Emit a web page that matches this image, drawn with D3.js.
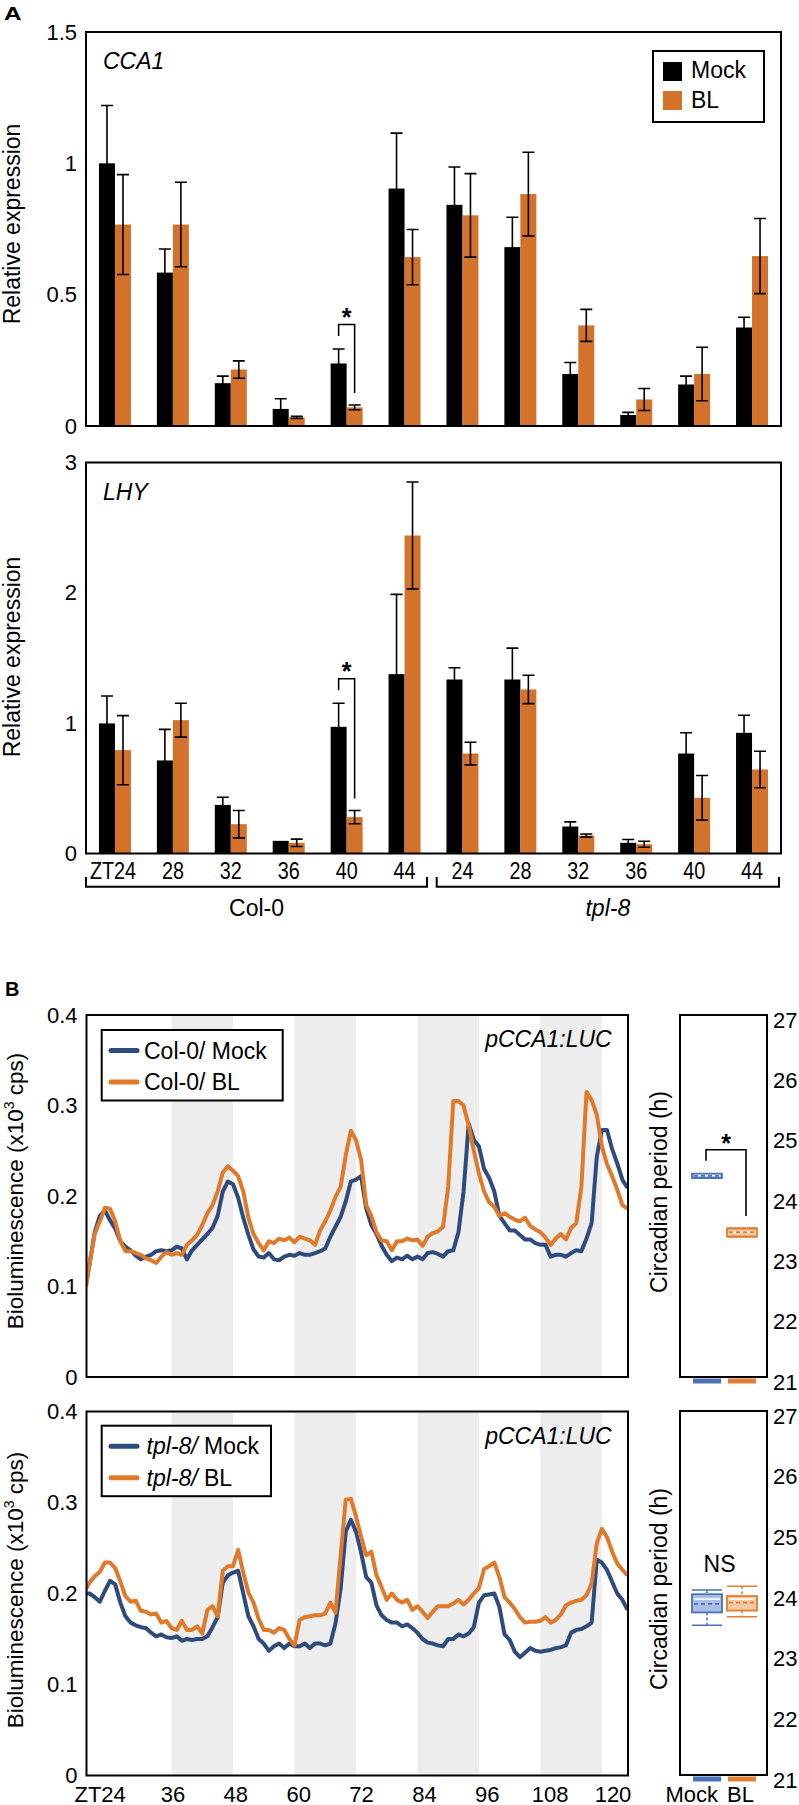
<!DOCTYPE html>
<html><head><meta charset="utf-8">
<script src="https://cdn.jsdelivr.net/npm/d3@7"></script>
<style>body{margin:0;background:#fff}svg{display:block}text{font-family:"Liberation Sans",Arial,Helvetica,sans-serif;fill:#000}</style>
</head><body><svg id="c" width="799" height="1805"></svg>
<script>
// ---------- Panel A data ----------
const timeLabels = ["ZT24","28","32","36","40","44","24","28","32","36","40","44"];
const genotypes = ["Col-0","tpl-8"];
const treatments = ["Mock","BL"];
const cca1Mock    = [1.00,0.584,0.163,0.065,0.238,0.904,0.842,0.681,0.198,0.042,0.158,0.375];
const cca1MockErr = [0.22,0.090,0.027,0.039,0.055,0.211,0.144,0.114,0.044,0.010,0.032,0.039];
const cca1BL      = [0.767,0.767,0.215,0.033,0.071,0.643,0.802,0.883,0.383,0.101,0.198,0.647];
const cca1BLErr   = [0.190,0.161,0.033,0.004,0.009,0.105,0.159,0.159,0.061,0.042,0.102,0.143];
const lhyMock     = [0.998,0.714,0.373,0.097,0.972,1.376,1.335,1.335,0.207,0.082,0.767,0.926];
const lhyMockErr  = [0.210,0.238,0.059,0.000,0.181,0.612,0.090,0.241,0.036,0.025,0.159,0.135];
const lhyBL       = [0.793,1.023,0.225,0.082,0.279,2.440,0.767,1.259,0.138,0.071,0.427,0.645];
const lhyBLErr    = [0.265,0.130,0.105,0.028,0.051,0.410,0.087,0.109,0.012,0.023,0.171,0.140];
const cca1Ticks = [0,0.5,1,1.5];
const lhyTicks = [0,1,2,3];

// ---------- Panel B data ----------
const hours = [19.3,20,21,22,23,24,25,26,27,28,29,30,31,32,33,34,35,36,37,38,39,40,41,42,43,44,45,46,47,48,49,50,51,52,53,54,55,56,57,58,59,60,61,62,63,64,65,66,67,68,69,70,71,72,73,74,75,76,77,78,79,80,81,82,83,84,85,86,87,88,89,90,91,92,93,94,95,96,97,98,99,100,101,102,103,104,105,106,107,108,109,110,111,112,113,114,115,116,117,118,119,120,121,122,123,124,125];
const col0Mock = [0.103,0.125,0.160,0.178,0.184,0.173,0.164,0.150,0.144,0.140,0.134,0.130,0.133,0.135,0.139,0.140,0.139,0.140,0.144,0.142,0.130,0.140,0.146,0.152,0.158,0.165,0.178,0.205,0.216,0.213,0.198,0.176,0.157,0.141,0.133,0.132,0.137,0.130,0.129,0.133,0.135,0.134,0.137,0.135,0.135,0.137,0.139,0.142,0.155,0.166,0.177,0.194,0.216,0.218,0.222,0.186,0.168,0.158,0.145,0.135,0.128,0.132,0.130,0.134,0.130,0.133,0.130,0.137,0.138,0.136,0.133,0.139,0.140,0.160,0.205,0.280,0.262,0.255,0.230,0.220,0.205,0.178,0.170,0.162,0.162,0.157,0.152,0.152,0.148,0.146,0.146,0.133,0.135,0.135,0.133,0.137,0.140,0.139,0.153,0.170,0.243,0.273,0.273,0.252,0.236,0.218,0.209];
const col0BL = [0.100,0.125,0.158,0.172,0.187,0.186,0.172,0.150,0.139,0.139,0.137,0.135,0.131,0.129,0.126,0.133,0.138,0.135,0.137,0.135,0.146,0.151,0.157,0.168,0.181,0.190,0.205,0.226,0.233,0.228,0.222,0.205,0.176,0.158,0.148,0.140,0.150,0.148,0.153,0.151,0.154,0.149,0.155,0.153,0.151,0.146,0.162,0.172,0.184,0.199,0.210,0.245,0.272,0.262,0.240,0.190,0.178,0.160,0.151,0.150,0.140,0.150,0.150,0.153,0.151,0.152,0.145,0.155,0.159,0.161,0.166,0.210,0.305,0.305,0.300,0.278,0.250,0.225,0.205,0.193,0.188,0.178,0.181,0.177,0.174,0.172,0.176,0.167,0.163,0.160,0.154,0.146,0.153,0.158,0.152,0.165,0.170,0.210,0.315,0.306,0.290,0.255,0.235,0.222,0.207,0.190,0.186];
const tplMock = [0.200,0.200,0.196,0.191,0.203,0.214,0.210,0.190,0.175,0.168,0.165,0.163,0.162,0.157,0.153,0.155,0.152,0.151,0.153,0.148,0.150,0.149,0.150,0.150,0.153,0.163,0.174,0.212,0.220,0.223,0.225,0.200,0.175,0.164,0.150,0.145,0.137,0.142,0.145,0.140,0.145,0.142,0.142,0.145,0.140,0.145,0.145,0.143,0.145,0.167,0.205,0.268,0.281,0.268,0.245,0.218,0.212,0.187,0.176,0.171,0.168,0.168,0.164,0.166,0.162,0.157,0.150,0.146,0.145,0.143,0.142,0.150,0.150,0.155,0.153,0.156,0.163,0.190,0.198,0.199,0.200,0.185,0.155,0.149,0.136,0.130,0.135,0.140,0.137,0.136,0.137,0.138,0.140,0.141,0.143,0.157,0.160,0.161,0.164,0.168,0.237,0.234,0.226,0.213,0.200,0.193,0.182];
const tplBL = [0.205,0.212,0.219,0.224,0.234,0.234,0.228,0.213,0.197,0.191,0.192,0.181,0.180,0.177,0.178,0.168,0.170,0.162,0.160,0.170,0.160,0.160,0.164,0.156,0.182,0.186,0.175,0.225,0.230,0.230,0.248,0.223,0.201,0.190,0.172,0.160,0.160,0.157,0.162,0.160,0.150,0.143,0.171,0.174,0.175,0.176,0.176,0.178,0.190,0.179,0.241,0.303,0.304,0.285,0.262,0.242,0.246,0.220,0.207,0.193,0.200,0.193,0.190,0.193,0.182,0.186,0.180,0.173,0.180,0.186,0.186,0.186,0.189,0.193,0.188,0.193,0.200,0.206,0.227,0.230,0.234,0.218,0.196,0.190,0.183,0.174,0.168,0.169,0.169,0.170,0.174,0.168,0.171,0.177,0.187,0.190,0.192,0.193,0.198,0.211,0.255,0.271,0.262,0.246,0.233,0.226,0.220];
const nightBands = [[36,48],[60,72],[84,96],[108,120]];
const xTickHours = [24,36,48,60,72,84,96,108,120];
const biolTicks = [0,0.1,0.2,0.3,0.4];
const periodTicks = [21,22,23,24,25,26,27];
// box stats: [min, q1, median, q3, max], plus mean
const col0PeriodMock = [24.30,24.30,24.34,24.37,24.37]; const col0PeriodMockMean = 24.335;
const col0PeriodBL   = [23.32,23.33,23.40,23.46,23.47]; const col0PeriodBLMean = 23.40;
const tplPeriodMock  = [23.47,23.68,23.90,23.98,24.05]; const tplPeriodMockMean = 23.82;
const tplPeriodBL    = [23.61,23.71,23.90,23.95,24.11]; const tplPeriodBLMean = 23.84;

// ---------- drawing ----------
const svg = d3.select("#c");
const BAR_BL = "#D3722B", LINE_BLUE = "#2F4B7E", LINE_OR = "#E07A2A";
const BOX = {Mock:{stroke:"#4A70B8", fill:"#A9BFE6"}, BL:{stroke:"#E07E34", fill:"#F5C9A0"}};

function frame(x0,y0,x1,y1){
  svg.append("rect").attr("x",x0).attr("y",y0).attr("width",x1-x0).attr("height",y1-y0)
    .attr("fill","none").attr("stroke","#000").attr("stroke-width",2);
}
function yTitle(txt,x,y,sup,fs){
  const t = svg.append("text").attr("transform",`translate(${x},${y}) rotate(-90)`)
    .attr("text-anchor","middle").attr("font-size",fs||23);
  if(sup){
    t.append("tspan").text(txt[0]);
    t.append("tspan").text(sup).attr("font-size",14).attr("dy",-9);
    t.append("tspan").text(txt[1]).attr("dy",9);
  } else t.text(txt);
}

function barPanel(top,bottom,yMax,ticks,mock,mockErr,bl,blErr,gene,sigIdx){
  const L=86,R=781;
  const y = d3.scaleLinear().domain([0,yMax]).range([bottom,top]);
  const x0 = d3.scaleBand().domain(d3.range(timeLabels.length)).range([L,R]);
  const bw = x0.bandwidth();
  const x1 = d3.scaleBand().domain(treatments).range([bw/2-16,bw/2+16]);
  const g = svg.append("g");
  const series = [{k:"Mock",v:mock,e:mockErr,c:"#000"},{k:"BL",v:bl,e:blErr,c:BAR_BL}];
  series.forEach(s=>{
    g.selectAll(null).data(s.v).enter().append("rect")
      .attr("x",(d,i)=>x0(i)+x1(s.k)).attr("width",x1.bandwidth())
      .attr("y",d=>y(d)).attr("height",d=>y(0)-y(d)).attr("fill",s.c);
  });
  series.forEach(s=>{
    s.v.forEach((d,i)=>{
      if(s.e[i]<=0) return;
      const cx = x0(i)+x1(s.k)+x1.bandwidth()/2;
      const path = `M${cx},${y(d+s.e[i])}V${y(Math.max(0,d-s.e[i]))}M${cx-6},${y(d+s.e[i])}H${cx+6}M${cx-6},${y(Math.max(0,d-s.e[i]))}H${cx+6}`;
      g.append("path").attr("d",path).attr("stroke","#000").attr("stroke-width",1.6).attr("fill","none");
    });
  });
  if(sigIdx!=null){
    const i=sigIdx;
    const xa = x0(i)+x1("Mock")+x1.bandwidth()/2, xb = x0(i)+x1("BL")+x1.bandwidth()/2;
    const ya = y(mock[i]+mockErr[i])-13, yb = y(bl[i]+blErr[i])-12, yt = ya-11.5;
    g.append("path").attr("d",`M${xa},${ya}V${yt}H${xb}V${yb}`).attr("fill","none").attr("stroke","#000").attr("stroke-width",1.6);
    g.append("text").attr("x",(xa+xb)/2).attr("y",yt+1.5).attr("text-anchor","middle").attr("font-size",25).attr("font-weight","bold").text("*");
  }
  frame(L,top,R,bottom);
  const ax = svg.append("g").attr("transform",`translate(${L},0)`)
    .call(d3.axisLeft(y).tickValues(ticks).tickSize(0).tickPadding(9).tickFormat(d3.format("~g")));
  ax.select(".domain").remove();
  ax.selectAll("text").attr("font-size",22).attr("font-family",null);
  svg.append("text").attr("x",103).attr("y",top+37).attr("font-size",23).attr("font-style","italic").text(gene);
  return {x0,bw};
}

svg.append("text").attr("x",3).attr("y",20.5).attr("font-size",18).attr("font-weight","bold")
  .attr("transform","scale(1.35,1)").text("A");

const pA1 = barPanel(32,426,1.5,cca1Ticks,cca1Mock,cca1MockErr,cca1BL,cca1BLErr,"CCA1",4);
const pA2 = barPanel(462.5,853.5,3,lhyTicks,lhyMock,lhyMockErr,lhyBL,lhyBLErr,"LHY",4);
yTitle("Relative expression",20,224);
yTitle("Relative expression",20,657);

// legend A
svg.append("rect").attr("x",653).attr("y",51).attr("width",111).attr("height",71).attr("fill","#fff").attr("stroke","#000").attr("stroke-width",2);
[["Mock","#000",62,78.3],["BL",BAR_BL,91,107.7]].forEach(([t,c,yy,yb])=>{
  svg.append("rect").attr("x",663).attr("y",yy).attr("width",19).attr("height",19).attr("fill",c);
  svg.append("text").attr("x",691).attr("y",yb).attr("font-size",23).text(t);
});

timeLabels.forEach((t,i)=>{
  const cx = pA2.x0(i)+pA2.bw/2 - (i===0?2:0);
  svg.append("text").attr("transform",`translate(${cx},878.5) scale(0.86,1)`).attr("text-anchor","middle").attr("font-size",23).text(t);
});
[[86,427,"Col-0",false],[436.7,779,"tpl-8",true]].forEach(([a,b,t,it])=>{
  svg.append("path").attr("d",`M${a},877V886.7H${b}V877`).attr("fill","none").attr("stroke","#000").attr("stroke-width",2);
  svg.append("text").attr("x",(a+b)/2).attr("y",915.5).attr("text-anchor","middle").attr("font-size",23)
    .attr("font-style",it?"italic":null).text(t);
});

// ---------- Panel B ----------
svg.append("text").attr("x",5).attr("y",996).attr("font-size",20).attr("font-weight","bold").text("B");
const xB = d3.scaleLinear().domain([19.3,125.1]).range([86,628]);
const xLab = d3.scaleLinear().domain([36,120]).range([173,613]);

function linePanel(top,bottom,mock,bl,legendNames,legY,legW,italic){
  const L=86.5,R=628;
  const y = d3.scaleLinear().domain([0,0.4]).range([bottom,top]);
  const id = "clip"+Math.round(top);
  svg.append("clipPath").attr("id",id).append("rect").attr("x",L).attr("y",top).attr("width",R-L).attr("height",bottom-top);
  const g = svg.append("g").attr("clip-path",`url(#${id})`);
  g.selectAll(null).data(nightBands).enter().append("rect")
    .attr("x",d=>xB(d[0])).attr("width",d=>xB(d[1])-xB(d[0])).attr("y",top).attr("height",bottom-top).attr("fill","#EDEDED");
  const line = d3.line().x((d,i)=>xB(hours[i])).y(d=>y(d));
  g.append("path").datum(mock).attr("d",line).attr("fill","none").attr("stroke",LINE_BLUE).attr("stroke-width",4).attr("stroke-linejoin","round");
  g.append("path").datum(bl).attr("d",line).attr("fill","none").attr("stroke",LINE_OR).attr("stroke-width",4).attr("stroke-linejoin","round");
  frame(L,top,R,bottom);
  const ax = svg.append("g").attr("transform",`translate(${L},0)`)
    .call(d3.axisLeft(y).tickValues(biolTicks).tickSize(0).tickPadding(9).tickFormat(d3.format("~g")));
  ax.select(".domain").remove();
  ax.selectAll("text").attr("font-size",22).attr("font-family",null);
  svg.append("text").attr("x",611.7).attr("y",top+32).attr("text-anchor","end").attr("font-size",23).attr("font-style","italic").text("pCCA1:LUC");
  svg.append("rect").attr("x",101.7).attr("y",legY).attr("width",legW).attr("height",70.5).attr("fill","#fff").attr("stroke","#000").attr("stroke-width",2);
  [[LINE_BLUE,0],[LINE_OR,1]].forEach(([c,k])=>{
    const ly = legY + 20.5 + k*31.5;
    svg.append("line").attr("x1",111).attr("x2",137).attr("y1",ly).attr("y2",ly).attr("stroke",c).attr("stroke-width",5).attr("stroke-linecap","round");
    const t = svg.append("text").attr("x",italic?146.5:144).attr("y",ly+8).attr("font-size",23);
    if(italic){ t.append("tspan").attr("font-style","italic").text(legendNames[0]); t.append("tspan").text(legendNames[k+1]); }
    else t.text(legendNames[0]+legendNames[k+1]);
  });
}
linePanel(1015,1377,col0Mock,col0BL,["Col-0/"," Mock"," BL"],1030,181,false);
linePanel(1411.5,1775.5,tplMock,tplBL,["tpl-8/"," Mock"," BL"],1425.7,169.3,true);
yTitle(["Bioluminescence (x10"," cps)"],22.5,1191,"3",22.5);
yTitle(["Bioluminescence (x10"," cps)"],22.5,1590,"3",22.5);
xTickHours.forEach((h,i)=>{
  svg.append("text").attr("x",xLab(h)-(i===0?10:0)).attr("y",1801.5).attr("text-anchor","middle").attr("font-size",22).text(i===0?"ZT"+h:h);
});

function boxPanel(top,bottom,stats,means,sig){
  const L=680,R=767;
  const y = d3.scaleLinear().domain([21,27]).range([bottom,top]);
  const xb = d3.scalePoint().domain(treatments).range([L+27,R-25]);
  const w = 30;
  treatments.forEach((t,k)=>{
    const s = stats[k], c = BOX[t], cx = xb(t);
    const g = svg.append("g");
    g.append("path").attr("d",`M${cx},${y(s[4])}V${y(s[3])}M${cx},${y(s[1])}V${y(s[0])}`).attr("stroke",c.stroke).attr("stroke-width",1.5).attr("stroke-dasharray","3,2");
    g.append("path").attr("d",`M${cx-w/2},${y(s[4])}H${cx+w/2}M${cx-w/2},${y(s[0])}H${cx+w/2}`).attr("stroke",c.stroke).attr("stroke-width",1.5);
    g.append("rect").attr("x",cx-w/2).attr("width",w).attr("y",y(s[3])).attr("height",Math.max(2,y(s[1])-y(s[3])))
      .attr("fill",c.fill).attr("stroke",c.stroke).attr("stroke-width",1.8);
    g.append("line").attr("x1",cx-w/2+2).attr("x2",cx+w/2-2).attr("y1",y(s[2])).attr("y2",y(s[2])).attr("stroke","#fff").attr("stroke-width",1.5);
    g.append("line").attr("x1",cx-w/2+2).attr("x2",cx+w/2-2).attr("y1",y(means[k])).attr("y2",y(means[k])).attr("stroke",c.stroke).attr("stroke-width",1.8).attr("stroke-dasharray","4,3");
    svg.append("rect").attr("x",cx-14).attr("y",bottom+1.5).attr("width",28).attr("height",5).attr("fill",c.stroke);
  });
  frame(L,top,R,bottom);
  periodTicks.forEach(v=>{
    svg.append("text").attr("x",R+6).attr("y",y(v)+5).attr("dominant-baseline","central").attr("font-size",22).text(v);
  });
  yTitle("Circadian period (h)",666.5,(top+bottom)/2-4);
  if(sig==="*"){
    const xa = xb("Mock")-1, xc = xb("BL")+4;
    const ya = y(stats[0][4])-13, yc = y(stats[1][4])-12, yt = ya-11;
    svg.append("path").attr("d",`M${xa},${ya}V${yt}H${xc}V${yc}`).attr("fill","none").attr("stroke","#000").attr("stroke-width",1.6);
    svg.append("text").attr("x",(xa+xc)/2).attr("y",yt+2).attr("text-anchor","middle").attr("font-size",25).attr("font-weight","bold").text("*");
  } else {
    svg.append("text").attr("x",(xb("Mock")+xb("BL"))/2-5).attr("y",y(stats[1][4])-14).attr("text-anchor","middle").attr("font-size",23).text(sig);
  }
  return xb;
}
boxPanel(1015,1377,[col0PeriodMock,col0PeriodBL],[col0PeriodMockMean,col0PeriodBLMean],"*");
const xbB = boxPanel(1411,1775,[tplPeriodMock,tplPeriodBL],[tplPeriodMockMean,tplPeriodBLMean],"NS");
svg.append("text").attr("x",xbB("Mock")+11).attr("y",1801.5).attr("text-anchor","end").attr("font-size",22).text("Mock");
svg.append("text").attr("x",xbB("BL")-15).attr("y",1801.5).attr("text-anchor","start").attr("font-size",22).text("BL");
</script></body></html>
